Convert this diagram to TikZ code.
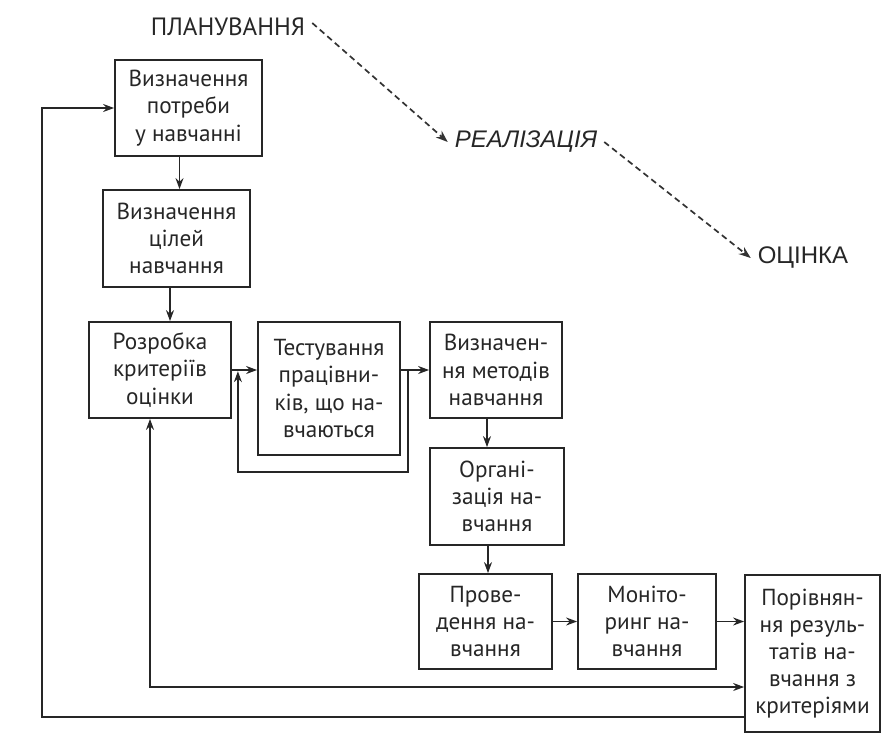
\documentclass[tikz,border=0pt]{standalone}
\usepackage{fontspec}
\setmainfont{PT Sans}
\newfontfamily\libsans{Liberation Sans}
\usetikzlibrary{arrows.meta,calc}
\begin{document}
\begin{tikzpicture}[x=0.5pt,y=-0.5pt,
  bx/.style={draw=black!85, line width=0.9pt, align=center, inner sep=2pt,
    font=\fontsize{11.6}{13.6}\selectfont, text=black!85},
  arr/.style={-{Stealth[length=5.5pt,width=4pt]}, draw=black!85, line width=0.75pt},
  dbl/.style={{Stealth[length=5.5pt,width=4pt]}-{Stealth[length=5.5pt,width=4pt]}, draw=black!85, line width=0.75pt},
  dsh/.style={-{Stealth[length=6pt,width=4.4pt]}, draw=black!80, line width=0.85pt, dash pattern=on 3pt off 2pt},
  lbl/.style={text=black!85}]
\useasboundingbox (0,0) rectangle (881,733);

% top labels
\node[lbl, font=\fontsize{12.5}{14}\selectfont] (plan) at (228,27) {ПЛАНУВАННЯ};
\node[lbl, font=\libsans\itshape\fontsize{12}{14}\selectfont] (real) at (526,142) {РЕАЛІЗАЦІЯ};
\node[lbl, font=\libsans\fontsize{12}{14}\selectfont] (oc) at (803,258) {ОЦІНКА};
\draw[dsh] ([yshift=2pt]plan.east) -- (real.west);
\draw[dsh] (real.east) -- (oc.west);

% boxes
\node[bx, minimum width=73.5pt, minimum height=48pt] (b1) at (188.5,108) {Визначення\\потреби\\у навчанні};
\node[bx, minimum width=73.5pt, minimum height=48.5pt] (b2) at (176.5,238.5) {Визначення\\цілей\\навчання};
\node[bx, minimum width=71pt, minimum height=48pt] (b3) at (160,370) {Розробка\\критеріїв\\оцінки};
\node[bx, minimum width=71pt, minimum height=66.5pt] (b4) at (329,388.5) {Тестування\\працівни-\\ків, що на-\\вчаються};
\node[bx, minimum width=66pt, minimum height=48pt] (b5) at (496,370) {Визначен-\\ня методів\\навчання};
\node[bx, minimum width=67pt, minimum height=48.5pt] (b6) at (497,496.5) {Органі-\\зація на-\\вчання};
\node[bx, minimum width=66.5pt, minimum height=47.5pt] (b7) at (485.5,621.5) {Прове-\\дення на-\\вчання};
\node[bx, minimum width=69pt, minimum height=47.5pt] (b8) at (647,621.5) {Моніто-\\ринг на-\\вчання};
\node[bx, minimum width=67.5pt, minimum height=78.5pt] (b9) at (812.5,653.5) {Порівнян-\\ня резуль-\\татів на-\\вчання з\\критеріями};

% helper coordinates
\coordinate (a12) at ([xshift=-4.5pt]b1.south);
\coordinate (a23) at ([xshift=-3.25pt]b2.south);
\coordinate (a56) at ([xshift=-4.5pt]b5.south);
\coordinate (a67) at ([xshift=-4.5pt]b6.south);
\coordinate (l1) at ($(b4.east |- b5.west)+(7,0)$);
\coordinate (l2) at ($(b3.east)+(6,0)$);
\coordinate (lb) at (0,472);
\coordinate (d1) at ([xshift=-5pt]b3.south);
\coordinate (dy) at (0,687);
\coordinate (oy) at (0,717);
\coordinate (ox) at (42,0);

% connectors
\draw[arr] (a12) -- (a12 |- b2.north);
\draw[arr] (a23) -- (a23 |- b3.north);
\draw[arr] (b3.east) -- (b3.east -| b4.west);
\draw[arr] (b4.east |- b5.west) -- (b5.west);
\draw[arr, shorten >=0.6pt] (l1) -- (l1 |- lb) -| (l2);
\draw[arr] (a56) -- (a56 |- b6.north);
\draw[arr] (a67) -- (a67 |- b7.north);
\draw[arr] (b7.east) -- (b8.west);
\draw[arr] (b8.east) -- (b8.east -| b9.west);
\draw[dbl] (d1) -- (d1 |- dy) -- (dy -| b9.west);
\draw[arr] (oy -| b9.west) -| (ox |- b1.west) -- (b1.west);
\end{tikzpicture}
\end{document}
